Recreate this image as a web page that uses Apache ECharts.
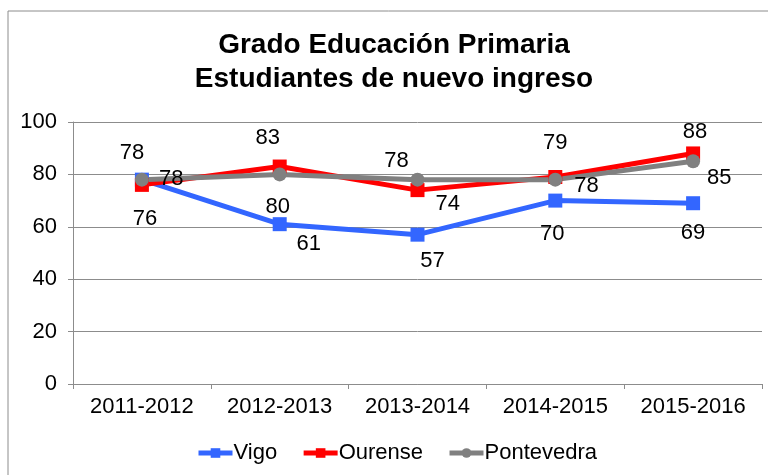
<!DOCTYPE html>
<html>
<head>
<meta charset="utf-8">
<script src="https://cdn.jsdelivr.net/npm/echarts@6/dist/echarts.min.js"></script>
<style>
  html, body { margin: 0; padding: 0; background: #fff; }
  #graph { width: 768px; height: 475px; }
</style>
</head>
<body>
<div id="graph"></div>
<script>
// chart data
const categories = ['2011-2012', '2012-2013', '2013-2014', '2014-2015', '2015-2016'];
const vigo = [78, 61, 57, 70, 69];
const ourense = [76, 83, 74, 79, 88];
const pontevedra = [78, 80, 78, 78, 85];
const yTicks = [0, 20, 40, 60, 80, 100];
const titleLines = ['Grado Educación Primaria', 'Estudiantes de nuevo ingreso'];

// where each data label sits (position + nudge)
const vigoPos = ['top', 'bottom', 'bottom', 'bottom', 'bottom'];
const vigoNudge = [[-10, 3], [29, -10], [15, -4], [-3, 3], [0, 0]];
const ourensePos = ['bottom', 'top', 'right', 'top', 'top'];
const ourenseNudge = [[3, 4], [-12, 1], [-1, 14], [0, -4], [2, 8]];
const pontevedraPos = ['right', 'bottom', 'top', 'right', 'right'];
const pontevedraNudge = [[-2, -1], [-2, 3], [-21, 11], [0, 6], [-5, 17]];

const font = 'Liberation Sans, Arial, sans-serif';

function withLabels(values, pos, nudge) {
  return values.map((v, i) => ({
    value: v,
    label: { position: pos[i], offset: nudge[i] }
  }));
}

function lineSeries(name, color, symbol, values, pos, nudge) {
  return {
    name: name,
    type: 'line',
    symbol: symbol,
    symbolSize: 14,
    lineStyle: { width: 5, color: color },
    itemStyle: { color: color },
    label: {
      show: true,
      fontFamily: font,
      fontSize: 22,
      color: '#000',
      distance: 12
    },
    data: withLabels(values, pos, nudge)
  };
}

var myChart = echarts.init(document.getElementById('graph'));
myChart.setOption({
  animation: false,
  graphic: [{
    type: 'rect',
    shape: { x: 8, y: 11, width: 800, height: 500 },
    style: { fill: 'none', stroke: '#8c8c8c', lineWidth: 1 },
    silent: true
  }, {
    type: 'text',
    x: 394,
    y: 28,
    style: {
      text: titleLines.join('\n'),
      align: 'center',
      verticalAlign: 'top',
      font: 'bold 28px ' + font,
      lineHeight: 34,
      fill: '#000'
    },
    silent: true
  }],
  legend: {
    bottom: 6,
    left: 191,
    itemWidth: 34,
    itemHeight: 12,
    itemGap: 24,
    lineStyle: { width: 5 },
    textStyle: { fontFamily: font, fontSize: 22, color: '#000', padding: [0, 0, 0, -4] },
    data: ['Vigo', 'Ourense', 'Pontevedra']
  },
  grid: { left: 73, right: 6, top: 122, bottom: 91 },
  xAxis: {
    type: 'category',
    data: categories,
    boundaryGap: true,
    axisLine: { lineStyle: { color: '#8c8c8c', width: 1 } },
    axisTick: { show: true, length: 5, lineStyle: { color: '#8c8c8c' } },
    axisLabel: { fontFamily: font, fontSize: 22, color: '#000', margin: 12 }
  },
  yAxis: {
    type: 'value',
    min: yTicks[0],
    max: yTicks[yTicks.length - 1],
    interval: 20,
    axisLine: { show: true, lineStyle: { color: '#8c8c8c', width: 1 } },
    axisTick: { show: true, length: 5, lineStyle: { color: '#8c8c8c' } },
    axisLabel: { fontFamily: font, fontSize: 22, color: '#000', margin: 16 },
    splitLine: { lineStyle: { color: '#8c8c8c', width: 1 } }
  },
  series: [
    lineSeries('Vigo', '#3366ff', 'rect', vigo, vigoPos, vigoNudge),
    lineSeries('Ourense', '#ff0000', 'rect', ourense, ourensePos, ourenseNudge),
    lineSeries('Pontevedra', '#808080', 'circle', pontevedra, pontevedraPos, pontevedraNudge)
  ]
});
</script>
</body>
</html>
